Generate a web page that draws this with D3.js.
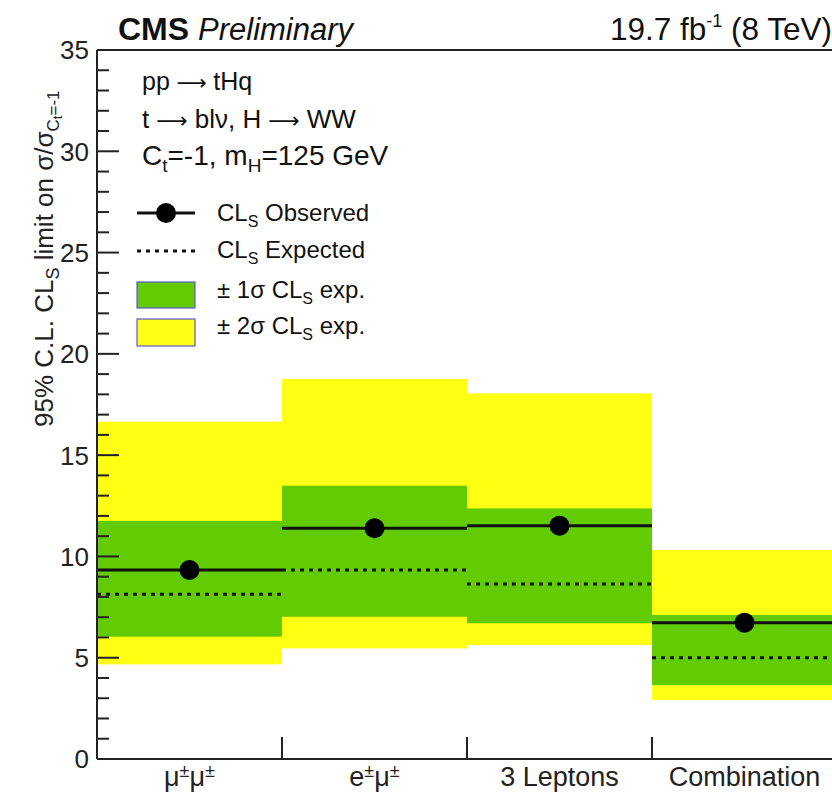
<!DOCTYPE html>
<html>
<head>
<meta charset="utf-8">
<script src="https://cdn.jsdelivr.net/npm/d3@7"></script>
<style>
  body { margin: 0; background: #fff; }
  svg { font-family: "Liberation Sans", Arial, sans-serif; }
  .sym { font-family: "DejaVu Sans", sans-serif; }
</style>
</head>
<body>
<svg width="832" height="795"></svg>
<script>
// channels and limits (in units of sigma/sigma_Ct=-1)
const categories = ["μ±μ±", "e±μ±", "3 Leptons", "Combination"];
const observed = [9.33, 11.39, 11.52, 6.73];
const expected = [8.13, 9.33, 8.64, 5.0];
const band1Lo = [6.04, 7.02, 6.70, 3.65];
const band1Hi = [11.75, 13.49, 12.37, 7.11];
const band2Lo = [4.67, 5.46, 5.63, 2.91];
const band2Hi = [16.65, 18.76, 18.05, 10.32];
const yTicks = [0, 5, 10, 15, 20, 25, 30, 35];

const svg = d3.select("svg");
const plotL = 97, plotR = 837, plotT = 50, plotB = 759;

const x = d3.scaleBand().domain(categories).range([plotL, plotR]).padding(0);
const y = d3.scaleLinear().domain([0, 35]).range([plotB, plotT]);

const rows = categories.map((c, i) => ({
    c, obs: observed[i], exp: expected[i],
    lo1: band1Lo[i], hi1: band1Hi[i], lo2: band2Lo[i], hi2: band2Hi[i]
}));

const green = "#62cb04";
const yellow = "#ffff14";

// 2 sigma band
svg.append("g").selectAll("rect").data(rows).enter().append("rect")
    .attr("x", d => x(d.c)).attr("width", x.bandwidth())
    .attr("y", d => y(d.hi2)).attr("height", d => y(d.lo2) - y(d.hi2))
    .attr("fill", yellow);

// 1 sigma band
svg.append("g").selectAll("rect").data(rows).enter().append("rect")
    .attr("x", d => x(d.c)).attr("width", x.bandwidth())
    .attr("y", d => y(d.hi1)).attr("height", d => y(d.lo1) - y(d.hi1))
    .attr("fill", green);

// expected
svg.append("g").selectAll("line").data(rows).enter().append("line")
    .attr("x1", d => x(d.c)).attr("x2", d => x(d.c) + x.bandwidth())
    .attr("y1", d => y(d.exp)).attr("y2", d => y(d.exp))
    .attr("stroke", "#111").attr("stroke-width", 3)
    .attr("stroke-dasharray", "4,5");

// observed
svg.append("g").selectAll("line").data(rows).enter().append("line")
    .attr("x1", d => x(d.c)).attr("x2", d => x(d.c) + x.bandwidth())
    .attr("y1", d => y(d.obs)).attr("y2", d => y(d.obs))
    .attr("stroke", "#111").attr("stroke-width", 3);

svg.append("g").selectAll("circle").data(rows).enter().append("circle")
    .attr("cx", d => x(d.c) + x.bandwidth() / 2).attr("cy", d => y(d.obs))
    .attr("r", 10).attr("fill", "#000");

// frame
const axisColor = "#222";
svg.append("line").attr("x1", plotL).attr("x2", plotR).attr("y1", plotT).attr("y2", plotT)
    .attr("stroke", axisColor).attr("stroke-width", 2);
svg.append("line").attr("x1", plotL).attr("x2", plotL).attr("y1", plotT).attr("y2", plotB)
    .attr("stroke", axisColor).attr("stroke-width", 2);
svg.append("line").attr("x1", plotL).attr("x2", plotR).attr("y1", plotB).attr("y2", plotB)
    .attr("stroke", axisColor).attr("stroke-width", 2);

// y ticks, pointing inward
const minor = d3.range(0, 36, 1);
svg.append("g").selectAll("line").data(minor).enter().append("line")
    .attr("x1", plotL).attr("x2", d => plotL + (d % 5 === 0 ? 22 : 12))
    .attr("y1", d => y(d)).attr("y2", d => y(d))
    .attr("stroke", axisColor).attr("stroke-width", 2);

svg.append("g").selectAll("text").data(yTicks).enter().append("text")
    .attr("x", plotL - 8).attr("y", d => y(d))
    .attr("dy", "0.36em").attr("text-anchor", "end")
    .attr("font-size", 26).attr("fill", "#222")
    .text(d => d);

// x ticks at bin edges
svg.append("g").selectAll("line").data(categories.slice(1)).enter().append("line")
    .attr("x1", d => x(d)).attr("x2", d => x(d))
    .attr("y1", plotB).attr("y2", plotB - 22)
    .attr("stroke", axisColor).attr("stroke-width", 2);

// x labels, ± as superscript
const xl = svg.append("g").selectAll("text").data(categories).enter().append("text")
    .attr("x", d => x(d) + x.bandwidth() / 2).attr("y", 786)
    .attr("text-anchor", "middle").attr("font-size", 27).attr("fill", "#222");
xl.each(function (d) {
    const t = d3.select(this);
    if (d.indexOf("±") < 0) { t.text(d); return; }
    let shift = 0;
    d.split(/(±)/).filter(s => s.length).forEach(s => {
        if (s === "±") {
            t.append("tspan").attr("font-size", 18).attr("dy", -9 - shift).text(s);
            shift = -9;
        } else {
            t.append("tspan").attr("dy", -shift).text(s);
            shift = 0;
        }
    });
});

// y axis title
const yt = svg.append("text")
    .attr("transform", "translate(53,427) rotate(-90)")
    .attr("font-size", 26).attr("fill", "#222");
yt.append("tspan").text("95% C.L. CL");
yt.append("tspan").attr("font-size", 18).attr("dy", 6).text("S");
yt.append("tspan").attr("dy", -6).text(" limit on σ/σ");
yt.append("tspan").attr("font-size", 17).attr("dy", 6).text("C");
yt.append("tspan").attr("font-size", 13).attr("dy", 3).text("t");
yt.append("tspan").attr("font-size", 17).attr("dy", -3).text("=-1");

// header
const cms = svg.append("text").attr("x", 118).attr("y", 40).attr("fill", "#111");
cms.append("tspan").attr("font-weight", "bold").attr("font-size", 32).text("CMS ");
cms.append("tspan").attr("font-style", "italic").attr("font-size", 31).text("Preliminary");

const lumi = svg.append("text").attr("x", 610).attr("y", 40)
    .attr("font-size", 31.5).attr("fill", "#111");
lumi.append("tspan").text("19.7 fb");
lumi.append("tspan").attr("font-size", 18).attr("dy", -13).text("-1");
lumi.append("tspan").attr("dy", 13).text(" (8 TeV)");

// process text
const arrow = " ⟶ ";
const info = svg.append("g").attr("fill", "#111");
const l1 = info.append("text").attr("x", 142).attr("y", 90).attr("font-size", 25);
l1.append("tspan").text("pp");
l1.append("tspan").attr("class", "sym").attr("font-size", 21).text(arrow);
l1.append("tspan").text("tHq");
const l2 = info.append("text").attr("x", 142).attr("y", 128).attr("font-size", 26);
l2.append("tspan").text("t");
l2.append("tspan").attr("class", "sym").attr("font-size", 22).text(arrow);
l2.append("tspan").text("blν, H");
l2.append("tspan").attr("class", "sym").attr("font-size", 22).text(arrow);
l2.append("tspan").text("WW");
const ct = info.append("text").attr("x", 142).attr("y", 165).attr("font-size", 28);
ct.append("tspan").text("C");
ct.append("tspan").attr("font-size", 19).attr("dy", 7).text("t");
ct.append("tspan").attr("dy", -7).text("=-1, m");
ct.append("tspan").attr("font-size", 19).attr("dy", 7).text("H");
ct.append("tspan").attr("dy", -7).text("=125 GeV");

// legend
const leg = svg.append("g");
leg.append("line").attr("x1", 137).attr("x2", 195).attr("y1", 213).attr("y2", 213)
    .attr("stroke", "#111").attr("stroke-width", 3);
leg.append("circle").attr("cx", 166).attr("cy", 213).attr("r", 10).attr("fill", "#000");
leg.append("line").attr("x1", 137).attr("x2", 195).attr("y1", 251).attr("y2", 251)
    .attr("stroke", "#111").attr("stroke-width", 3).attr("stroke-dasharray", "4,5");
leg.append("rect").attr("x", 137).attr("y", 282).attr("width", 58).attr("height", 26)
    .attr("fill", green).attr("stroke", "#5a5ad0").attr("stroke-width", 1.2);
leg.append("rect").attr("x", 137).attr("y", 319).attr("width", 58).attr("height", 27)
    .attr("fill", yellow).attr("stroke", "#5a5ad0").attr("stroke-width", 1.2);

const legItems = [
    ["", "Observed", 221],
    ["", "Expected", 258],
    ["± 1σ ", "exp.", 298],
    ["± 2σ ", "exp.", 334]
];
legItems.forEach(([pre, post, yy]) => {
    const t = leg.append("text").attr("x", 217).attr("y", yy)
        .attr("font-size", 24).attr("fill", "#111");
    t.append("tspan").text(pre + "CL");
    t.append("tspan").attr("font-size", 16).attr("dy", 6).text("S");
    t.append("tspan").attr("dy", -6).text(" " + post);
});
</script>
</body>
</html>
